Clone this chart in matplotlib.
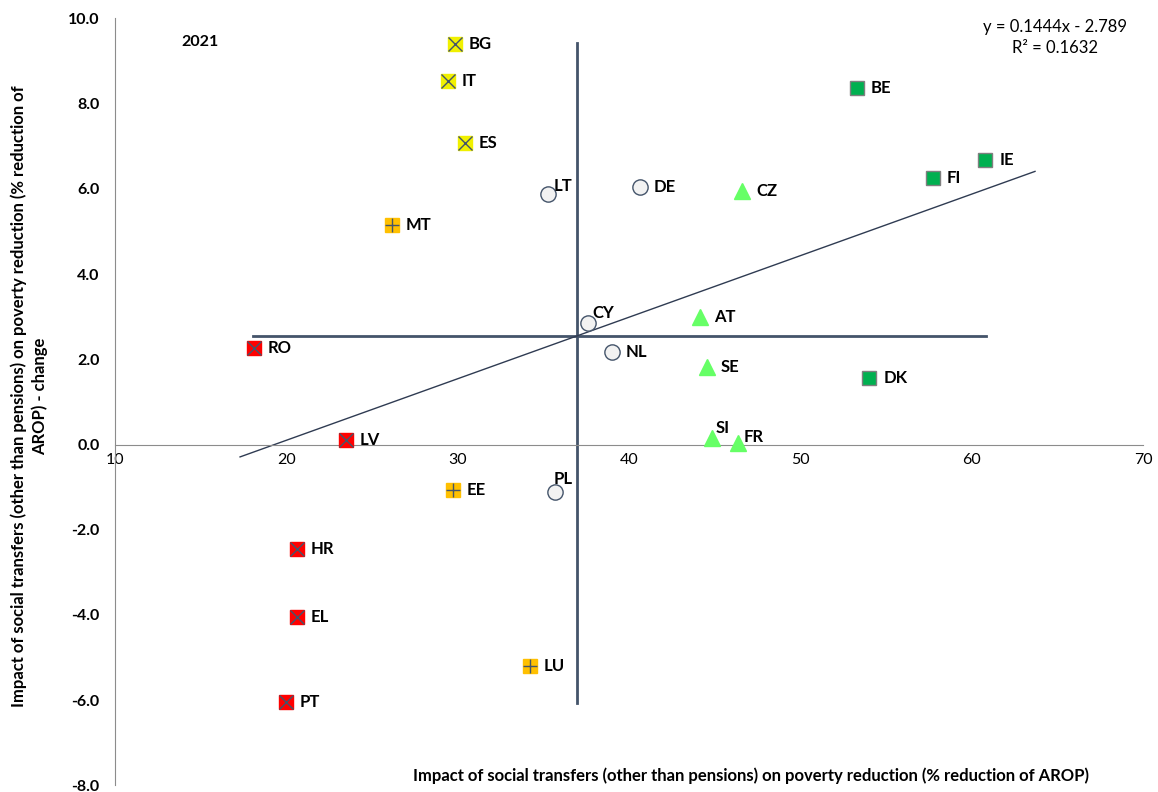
import matplotlib
matplotlib.use("Agg")
import matplotlib.pyplot as plt
import numpy as np

plt.rcParams['font.family'] = ['Lato', 'DejaVu Sans']

# Data
countries = ["BG", "IT", "ES", "MT", "LT", "DE", "CZ", "BE", "IE", "FI", "CY", "AT",
             "RO", "NL", "SE", "DK", "LV", "SI", "FR", "EE", "PL", "HR", "EL", "LU", "PT"]
x_vals = [29.85, 29.44, 30.43, 26.17, 35.28, 40.65, 46.6, 53.3, 60.79, 57.75, 37.6, 44.15,
          18.11, 39.01, 44.56, 54.02, 23.49, 44.85, 46.37, 29.73, 35.69, 20.62, 20.62, 34.23, 19.98]
y_vals = [9.41, 8.52, 7.07, 5.15, 5.87, 6.04, 5.94, 8.36, 6.67, 6.25, 2.85, 3.0,
          2.27, 2.17, 1.82, 1.56, 0.11, 0.16, 0.04, -1.06, -1.11, -2.45, -4.04, -5.19, -6.05]
groups = ["yellow", "yellow", "yellow", "orange", "circle", "circle", "tri", "green", "green", "green",
          "circle", "tri", "red", "circle", "tri", "green", "red", "tri", "tri", "orange", "circle",
          "red", "red", "orange", "red"]

slope, intercept = 0.1444, -2.789
trend_x = [17.3, 63.7]
h_line_x = [18.06, 60.85]
h_line_y = 2.55
v_line_x = 36.97
v_line_y = [-6.07, 9.43]

x_ticks = [10, 20, 30, 40, 50, 60, 70]
y_ticks = [-8, -6, -4, -2, 0, 2, 4, 6, 8, 10]

styles = {
    "yellow": dict(marker="s", fc="#F0F000", ec="#F0F000", overlay="x"),
    "orange": dict(marker="s", fc="#FFC000", ec="#FFC000", overlay="+"),
    "red": dict(marker="s", fc="#FF0000", ec="#FF0000", overlay="x"),
    "green": dict(marker="s", fc="#00B050", ec="#7F7F7F", overlay=None),
    "tri": dict(marker="^", fc="#66FF66", ec="#66FF66", overlay=None),
    "circle": dict(marker="o", fc="#F2F2F2", ec="#44546A", overlay=None),
}

# offsets in pixels (dx, dy up)
label_offsets = {"LT": (6, 8), "CY": (5, 10), "PL": (-2, 13), "SI": (4, 10), "FR": (6, 6)}

fig = plt.figure(figsize=(11.58, 7.92), dpi=100)
ax = fig.add_axes([0.0993, 0.0083, 0.8877, 0.9685])
ax.set_xlim(10, 70)
ax.set_ylim(-8, 10)

dark = "#44546A"
ax.plot(h_line_x, [h_line_y, h_line_y], color=dark, lw=2, zorder=2)
ax.plot([v_line_x, v_line_x], v_line_y, color=dark, lw=2, zorder=2)
tx = np.array(trend_x)
ax.plot(tx, slope * tx + intercept, color="#2F3B52", lw=1, zorder=2)

px2pt = 72 / 100
for c, x, y, g in zip(countries, x_vals, y_vals, groups):
    st = styles[g]
    size = {"s": 10.5, "^": 12, "o": 11}[st["marker"]]
    ax.plot(x, y, marker=st["marker"], ms=size, mfc=st["fc"], mec=st["ec"], mew=1,
            linestyle="none", zorder=4)
    if st["overlay"]:
        ax.plot(x, y, marker=st["overlay"], ms=10.5, mec=dark, mew=1, linestyle="none", zorder=5)
    dx, dy = label_offsets.get(c, (14, 0))
    ax.annotate(c, (x, y), xytext=(dx * px2pt, dy * px2pt), textcoords="offset points",
                ha="left", va="center", fontsize=12, fontweight="bold", color="black", zorder=6)

for s in ["top", "right"]:
    ax.spines[s].set_visible(False)
ax.spines["left"].set_color("#8C8C8C")
ax.spines["bottom"].set_color("#8C8C8C")
ax.spines["bottom"].set_position(("data", 0))
ax.set_xticks(x_ticks)
ax.set_xticklabels([str(v) for v in x_ticks], fontsize=11.5)
ax.set_yticks(y_ticks)
ax.set_yticklabels([f"{v:.1f}" for v in y_ticks], fontsize=11.5, fontweight="bold")
ax.tick_params(axis="both", length=0)
ax.tick_params(axis="x", pad=6)
ax.tick_params(axis="y", pad=11)

fig.text(0.025, 0.50, "Impact of social transfers (other than pensions) on poverty reduction (% reduction of\nAROP) - change",
         rotation=90, ha="center", va="center", fontsize=12, fontweight="bold", linespacing=1.35)
fig.text(0.6485, 0.021, "Impact of social transfers (other than pensions) on poverty reduction (% reduction of AROP)",
         ha="center", va="center", fontsize=12, fontweight="bold")
fig.text(0.173, 0.947, "2021", ha="center", va="center", fontsize=11.5, fontweight="bold")
fig.text(0.911, 0.953, "y = 0.1444x - 2.789\nR\u00b2 = 0.1632", ha="center", va="center",
         fontsize=12, linespacing=1.4)

fig.savefig("out.png", dpi=100)
